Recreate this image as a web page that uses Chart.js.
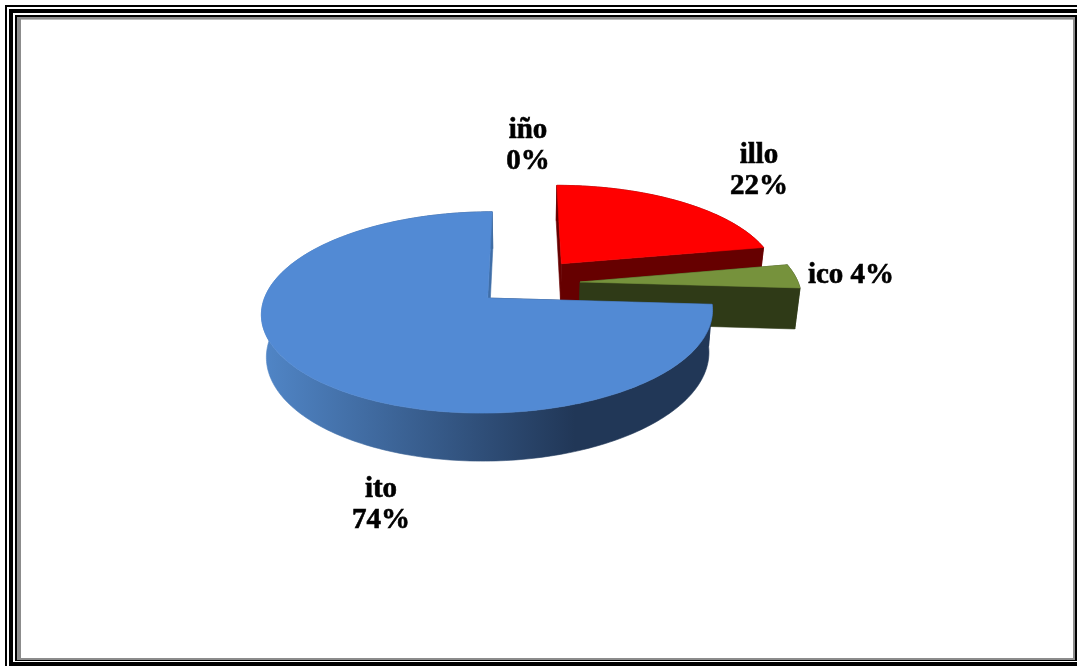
<!DOCTYPE html>
<html>
<head>
<meta charset="utf-8">
<title>Diminutivos</title>
<script src="https://cdn.jsdelivr.net/npm/chart.js@4"></script>
<style>
  html, body { margin: 0; padding: 0; background: #fff; }
  canvas { display: block; }
</style>
</head>
<body>
<canvas id="pie" width="1077" height="666"></canvas>
<script>
// Share of each diminutive suffix, clockwise from twelve o'clock
const categories = ['iño', 'illo', 'ico', 'ito'];
const shareValues = [0, 22, 4, 74];
// How far each slice is pulled out, as a percentage of the radius
const explodeValues = [0, 28, 26, 22];

const topColors = ['#C0504D', '#FF0000', '#76923C', '#528AD4'];
const wallColors = ['#632523', '#660000', '#2F3A17', '#213757'];
const wallLightColors = ['#632523', '#660000', '#2F3A17', '#5085C6'];

// Camera used to tip the pie back: unit-disc coordinates to page pixels
const view = { cx: 523.5, cy: 283.5, sx: 218.5, sy: 94.5, tilt: 0.14, taper: 0.019 };
const UNIT_RADIUS = 100;

function project(u, v, z) {
  const d = 1 - view.tilt * v;
  const x0 = view.cx + view.sx * u / d;
  const y0 = view.cy + view.sy * v / d;
  return {
    x: x0 - z * view.taper * (x0 - view.cx),
    y: y0 + z * (41 + (y0 - 287) * 0.0556)
  };
}

// Samples a slice's outline from the arc element the pie controller laid out
function sliceGeometry(arc) {
  const R = arc.outerRadius;
  const mid = (arc.startAngle + arc.endAngle) / 2;
  const off = arc.options.offset;
  const ax = Math.cos(mid) * off / R;
  const ay = Math.sin(mid) * off / R;
  const n = Math.max(2, Math.ceil((arc.endAngle - arc.startAngle) / 0.02));
  const rim = [];
  for (let i = 0; i <= n; i++) {
    const t = arc.startAngle + (arc.endAngle - arc.startAngle) * i / n;
    rim.push([ax + Math.cos(t), ay + Math.sin(t)]);
  }
  return { apex: [ax, ay], rim };
}

function fillPoly(ctx, pts, fill) {
  ctx.beginPath();
  pts.forEach((p, i) => (i ? ctx.lineTo(p.x, p.y) : ctx.moveTo(p.x, p.y)));
  ctx.closePath();
  ctx.fillStyle = fill;
  ctx.fill();
  ctx.strokeStyle = fill;
  ctx.lineWidth = 0.6;
  ctx.stroke();
}

function drawSlice(ctx, arc, index) {
  const { apex, rim } = sliceGeometry(arc);
  const at = (p, z) => project(p[0], p[1], z);
  const dark = wallColors[index];

  // Curved outer wall, shaded from left to right
  const wall = ctx.createLinearGradient(265, 0, 575, 0);
  wall.addColorStop(0, wallLightColors[index]);
  wall.addColorStop(1, dark);
  const strip = rim.map(p => at(p, 0)).concat(rim.slice().reverse().map(p => at(p, 1)));
  fillPoly(ctx, strip, wall);

  // Cut faces on both sides of the slice
  [rim[0], rim[rim.length - 1]].forEach(edge => {
    fillPoly(ctx, [at(apex, 0), at(edge, 0), at(edge, 1), at(apex, 1)],
      index === 3 && edge === rim[rim.length - 1] ? '#3F6EA8' : dark);
  });

  // Top surface
  fillPoly(ctx, [at(apex, 0)].concat(rim.map(p => at(p, 0))), topColors[index]);
}

const labelAnchors = {
  'iño': { x: 528, y: 131, lineGap: 31, oneLine: false },
  'illo': { x: 759, y: 156, lineGap: 31, oneLine: false },
  'ico': { x: 851, y: 276, lineGap: 0, oneLine: true },
  'ito': { x: 381, y: 490, lineGap: 31, oneLine: false }
};

const pie3d = {
  id: 'pie3d',
  // Page frame: three black rules and a grey inner edge
  beforeDraw(chart) {
    const ctx = chart.ctx;
    const W = chart.width, H = chart.height;
    ctx.save();
    ctx.fillStyle = '#fff';
    ctx.fillRect(0, 0, W, H);
    ctx.fillStyle = '#000';
    ctx.fillRect(5, 5, 2, H - 5);
    ctx.fillRect(5, 5, W - 5, 2);
    ctx.fillRect(9, 9, 4, H - 9);
    ctx.fillRect(9, 9, W - 9, 4);
    ctx.fillRect(9, 662, W - 9, 4);
    ctx.fillRect(15, 15, 2.4, 646);
    ctx.fillRect(15, 15, W - 15, 2);
    ctx.fillRect(15, 660, W - 15, 1);
    ctx.fillRect(1075, 15, 2, 646);
    ctx.fillStyle = '#8C8C8C';
    ctx.fillRect(17.4, 17, 3.6, 643);
    ctx.fillRect(17.4, 17, 1057.6, 2.6);
    ctx.fillRect(17.4, 658, 1057.6, 2);
    ctx.fillRect(1073, 17, 2, 643);
    ctx.restore();
  },
  // Replaces the flat arcs with extruded slices, back to front
  beforeDatasetDraw(chart, args) {
    const ctx = chart.ctx;
    const arcs = args.meta.data;
    ctx.save();
    [1, 2, 3].forEach(i => {
      if (shareValues[i] > 0) drawSlice(ctx, arcs[i], i);
    });
    ctx.restore();
    return false;
  },
  afterDraw(chart) {
    const ctx = chart.ctx;
    ctx.save();
    ctx.fillStyle = '#000';
    ctx.strokeStyle = '#000';
    ctx.lineWidth = 0.6;
    ctx.font = 'bold 29px "Liberation Serif", serif';
    ctx.textAlign = 'center';
    ctx.textBaseline = 'middle';
    const put = (text, x, y) => {
      ctx.fillText(text, x, y);
      ctx.strokeText(text, x, y);
    };
    categories.forEach((name, i) => {
      const a = labelAnchors[name];
      const pct = shareValues[i] + '%';
      if (a.oneLine) {
        put(name + ' ' + pct, a.x, a.y);
      } else {
        put(name, a.x, a.y);
        put(pct, a.x, a.y + a.lineGap);
      }
    });
    ctx.restore();
  }
};

new Chart(document.getElementById('pie'), {
  type: 'pie',
  data: {
    labels: categories,
    datasets: [{
      data: shareValues,
      offset: explodeValues,
      backgroundColor: topColors,
      borderWidth: 0
    }]
  },
  options: {
    responsive: false,
    animation: false,
    radius: UNIT_RADIUS,
    plugins: { legend: { display: false }, tooltip: { enabled: false } }
  },
  plugins: [pie3d]
});
</script>
</body>
</html>
